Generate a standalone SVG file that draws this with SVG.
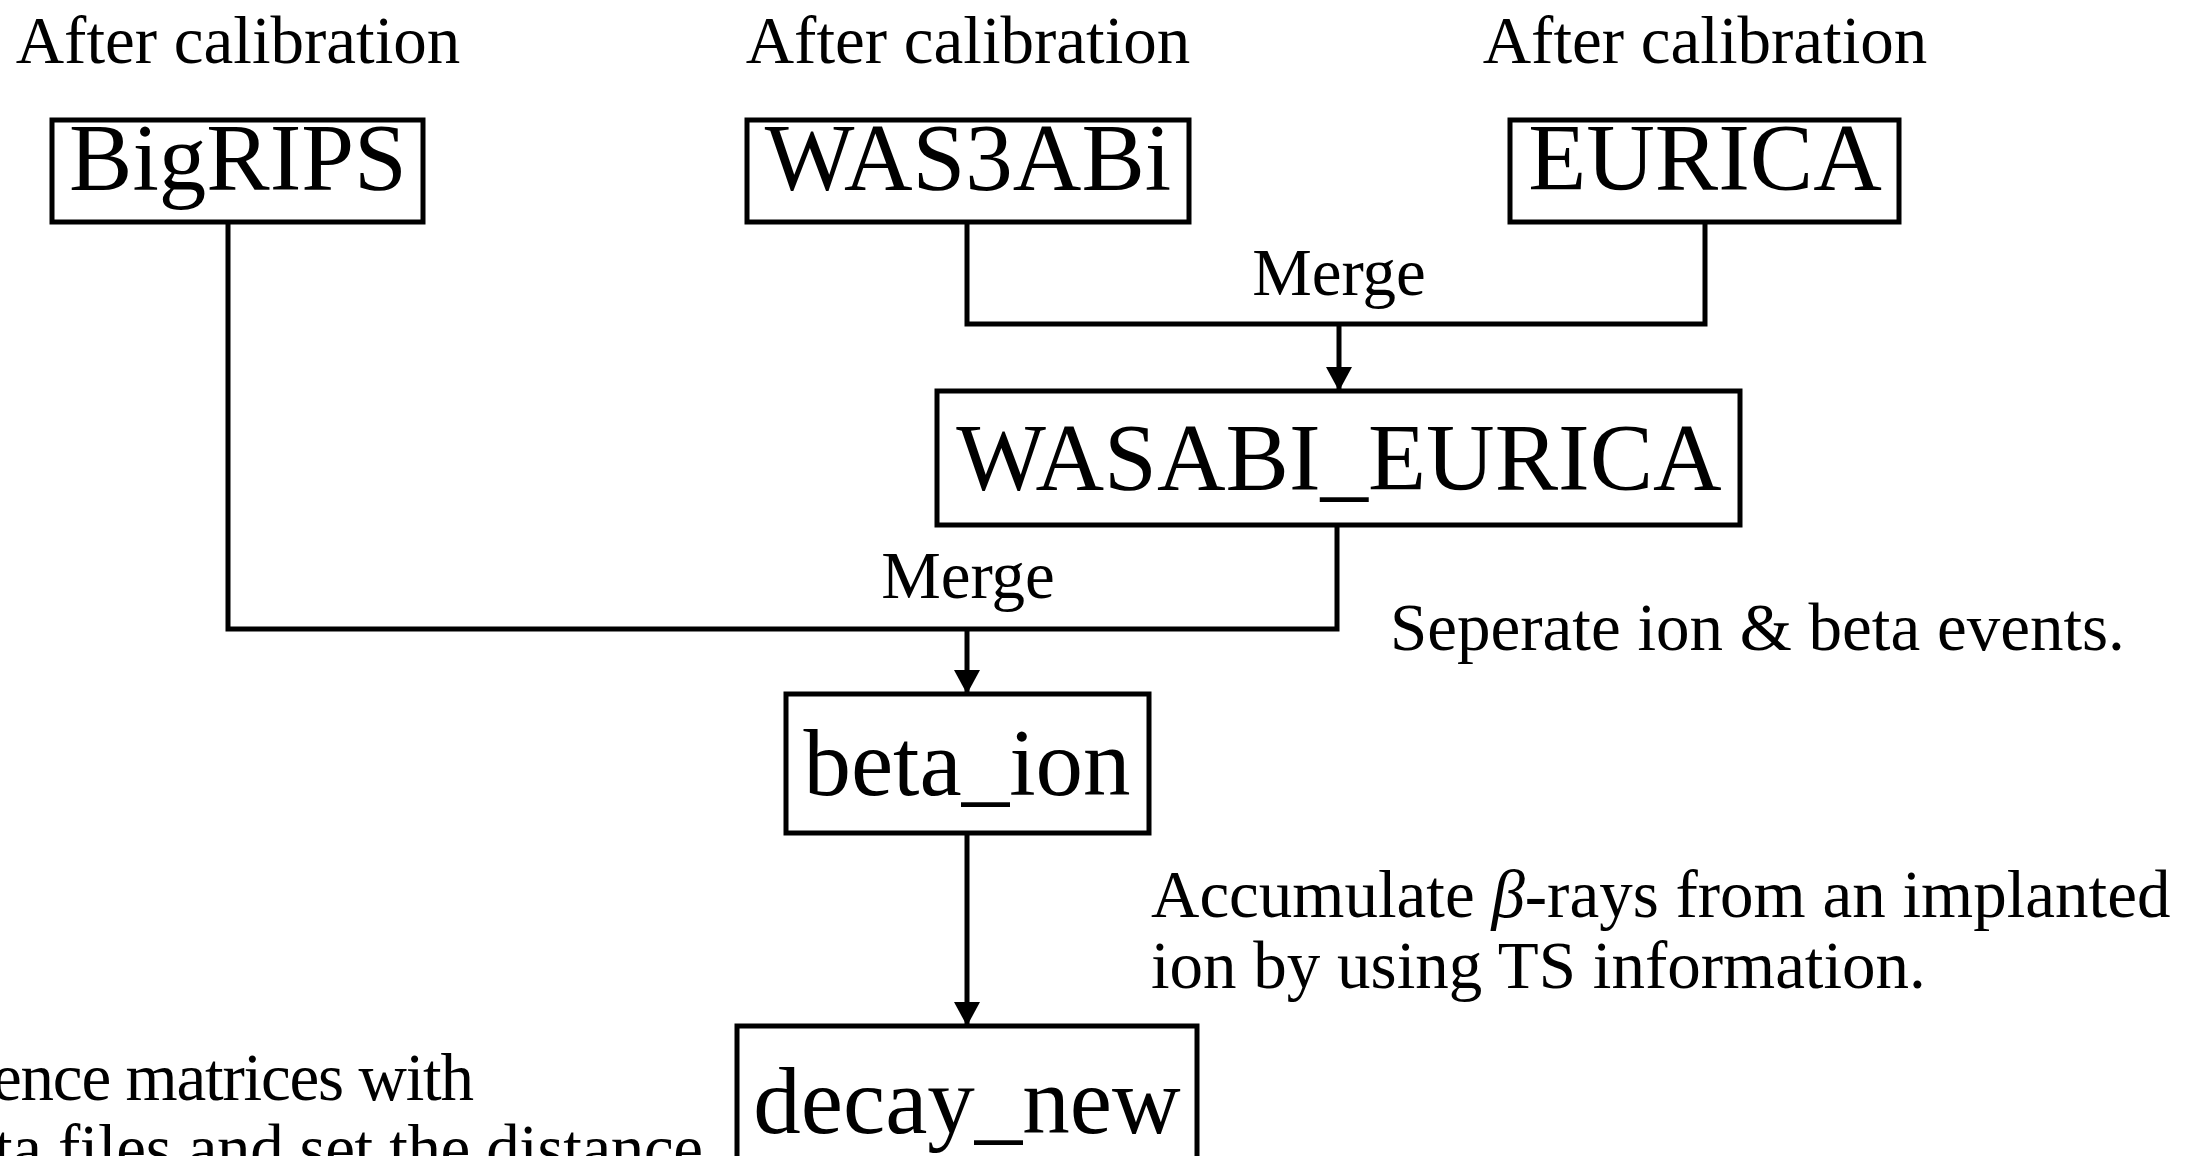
<svg xmlns="http://www.w3.org/2000/svg" width="2206" height="1156" viewBox="0 0 2206 1156">
<style>
  .box { fill: #fff; stroke: #000; stroke-width: 5; }
  .big { font-family: "Liberation Serif", "Times New Roman", serif; font-size: 95px; fill: #000; text-anchor: middle; }
  .sm { font-family: "Liberation Serif", "Times New Roman", serif; font-size: 67px; fill: #000; }
  .mid { text-anchor: middle; }
  .ln { fill: none; stroke: #000; stroke-width: 5; }
</style>
<defs>
  <marker id="arr" viewBox="0 0 24 26" refX="24" refY="13" markerWidth="24" markerHeight="26" markerUnits="userSpaceOnUse" orient="auto">
    <path d="M0,0 L24,13 L0,26 z" fill="#000"/>
  </marker>
</defs>
<rect width="2206" height="1156" fill="#fff"/>
<g id="connectors">
  <path class="ln" d="M228,222 V629 H1337 V525"/>
  <path class="ln" d="M967,222 V324 H1705 V222"/>
  <path class="ln" d="M1339,324 V391" marker-end="url(#arr)"/>
  <path class="ln" d="M967,629 V694" marker-end="url(#arr)"/>
  <path class="ln" d="M967,833 V1026" marker-end="url(#arr)"/>
</g>
<g id="bigrips">
  <text class="sm mid" x="238" y="63">After calibration</text>
  <rect class="box" x="52" y="120" width="371" height="102"/>
  <text class="big" x="238" y="190">BigRIPS</text>
</g>
<g id="was3abi">
  <text class="sm mid" x="968" y="63">After calibration</text>
  <rect class="box" x="747" y="120" width="442" height="102"/>
  <text class="big" x="968" y="190">WAS3ABi</text>
</g>
<g id="eurica">
  <text class="sm mid" x="1705" y="63">After calibration</text>
  <rect class="box" x="1510" y="120" width="389" height="102"/>
  <text class="big" x="1705" y="190">EURICA</text>
</g>
<g id="merge1">
  <text class="sm mid" x="1339" y="295">Merge</text>
</g>
<g id="wasabi_eurica">
  <rect class="box" x="937" y="391" width="803" height="134"/>
  <text class="big" x="1339" y="490">WASABI_EURICA</text>
</g>
<g id="merge2">
  <text class="sm mid" x="968" y="598">Merge</text>
</g>
<g id="note_separate">
  <text class="sm" x="1390" y="650">Seperate ion &amp; beta events.</text>
</g>
<g id="beta_ion">
  <rect class="box" x="786" y="694" width="363" height="139"/>
  <text class="big" x="967" y="795">beta_ion</text>
</g>
<g id="note_accumulate">
  <text class="sm" x="1151" y="917">Accumulate <tspan font-style="italic">β</tspan>-rays from an implanted</text>
  <text class="sm" x="1151" y="988">ion by using TS information.</text>
</g>
<g id="decay_new">
  <rect class="box" x="737" y="1026" width="460" height="200"/>
  <text class="big" x="967" y="1133">decay_new</text>
</g>
<g id="note_left">
  <text class="sm" x="-8" y="1100" textLength="482">ence matrices with</text>
  <text class="sm" x="-6" y="1171" textLength="709">ta files and set the distance</text>
</g>
</svg>
